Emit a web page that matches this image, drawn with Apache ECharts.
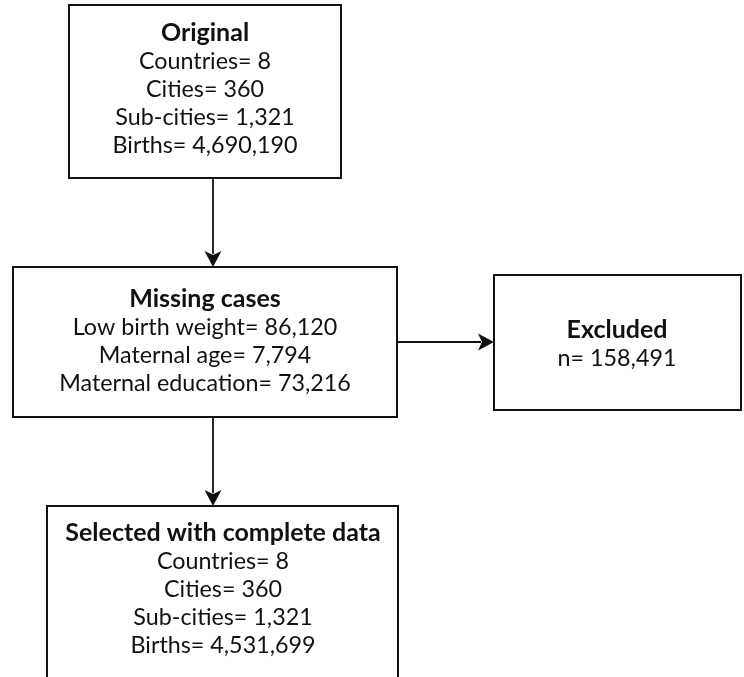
<!DOCTYPE html>
<html>
<head>
<meta charset="utf-8">
<script src="https://cdn.jsdelivr.net/npm/echarts@6/dist/echarts.min.js"></script>
<style>html,body{margin:0;padding:0;background:#fff}#c{width:744px;height:677px}</style>
</head>
<body>
<div id="c"></div>
<script>
// Flowchart content
const boxTitles = ['Original', 'Missing cases', 'Excluded', 'Selected with complete data'];
const originalLines = ['Countries= 8', 'Cities= 360', 'Sub-cities= 1,321', 'Births= 4,690,190'];
const missingLines = ['Low birth weight= 86,120', 'Maternal age= 7,794', 'Maternal education= 73,216'];
const excludedLines = ['n= 158,491'];
const selectedLines = ['Countries= 8', 'Cities= 360', 'Sub-cities= 1,321', 'Births= 4,531,699'];

const boxLines = [originalLines, missingLines, excludedLines, selectedLines];
// layout (positions in px)
const boxRects = [
  {x: 69, y: 5, w: 272, h: 173, tx: 205, ty: 33},
  {x: 13, y: 267, w: 384, h: 150, tx: 205, ty: 299},
  {x: 494, y: 275, w: 247, h: 135, tx: 617, ty: 330},
  {x: 47, y: 506, w: 351, h: 200, tx: 223, ty: 533}
];
const arrows = [
  [[213, 178], [213, 267]],
  [[213, 417], [213, 506]],
  [[397, 342], [494, 342]]
];
const FONT = 'Lato';
const FS = 23.3;
const FS_B = 25;
const LH = 28;

const elements = [];
boxRects.forEach((r, i) => {
  elements.push({type: 'rect', shape: {x: r.x, y: r.y, width: r.w, height: r.h},
    style: {fill: '#fff', stroke: '#111', lineWidth: 2}, z: 1});
  elements.push({type: 'text', x: r.tx, y: r.ty, z: 2,
    style: {text: boxTitles[i], font: 'bold ' + FS_B + 'px ' + FONT, fill: '#111', align: 'center', verticalAlign: 'middle'}});
  boxLines[i].forEach((t, j) => {
    elements.push({type: 'text', x: r.tx, y: r.ty + LH * (j + 1), z: 2,
      style: {text: t, font: FS + 'px ' + FONT, fill: '#111', align: 'center', verticalAlign: 'middle'}});
  });
});
arrows.forEach(a => {
  const [p0, p1] = a;
  const dx = p1[0] - p0[0], dy = p1[1] - p0[1];
  const len = Math.hypot(dx, dy), ux = dx / len, uy = dy / len;
  const hl = 16, hw = 8.5;
  const bx = p1[0] - ux * hl, by = p1[1] - uy * hl;
  elements.push({type: 'line', z: 3, shape: {x1: p0[0], y1: p0[1], x2: bx + ux * 3, y2: by + uy * 3},
    style: {stroke: '#111', lineWidth: 1.8}});
  elements.push({type: 'polygon', z: 3, shape: {points: [
    [p1[0], p1[1]], [bx - uy * hw, by + ux * hw], [bx + ux * 4, by + uy * 4], [bx + uy * hw, by - ux * hw]]},
    style: {fill: '#111'}});
});

const chart = echarts.init(document.getElementById('c'), null, {renderer: 'canvas'});
chart.setOption({backgroundColor: '#fff', animation: false, graphic: {elements}});
</script>
</body>
</html>
